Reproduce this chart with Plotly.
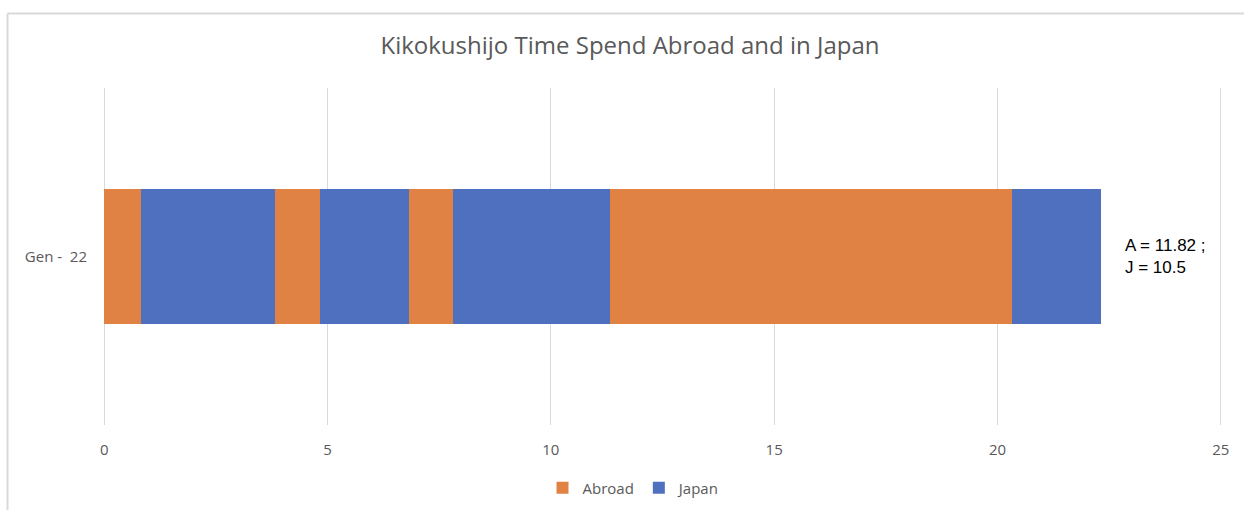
import plotly.graph_objects as go

# Generation label shown on the category axis
category = ["Gen -\u00a0\u00a022"]

# Consecutive periods of residence, in years, in chronological order
segment_series = ["Abroad", "Japan", "Abroad", "Japan", "Abroad", "Japan", "Abroad", "Japan"]
segment_years = [0.82, 3, 1, 2, 1, 3.5, 9, 2]

series_colors = {"Abroad": "#DF8244", "Japan": "#4E70BE"}

x_ticks = [0, 5, 10, 15, 20, 25]

fig = go.Figure()
shown = set()
for name, years in zip(segment_series, segment_years):
    fig.add_trace(go.Bar(
        y=category,
        x=[years],
        orientation="h",
        name=name,
        legendgroup=name,
        showlegend=name not in shown,
        marker=dict(color=series_colors[name], line=dict(width=0)),
        width=0.4,
    ))
    shown.add(name)

total_abroad = round(sum(y for s, y in zip(segment_series, segment_years) if s == "Abroad"), 2)
total_japan = round(sum(y for s, y in zip(segment_series, segment_years) if s == "Japan"), 2)

fig.add_annotation(
    x=sum(segment_years), y=0, xref="x", yref="y",
    text=f"A = {total_abroad:g} ;<br>J = {total_japan:g}",
    showarrow=False, xanchor="left", yanchor="middle", align="left",
    xshift=22,
    font=dict(family="Liberation Sans, Arial", size=17, color="#000000"),
)

# Light frame around the chart area (paper coords of a 1121x337 plot area at l=102, t=88)
def px_x(px):
    return (px - 102) / 1121

def px_y(py):
    return (425 - py) / 337

frame = dict(type="line", xref="paper", yref="paper", line=dict(color="#D9D9D9", width=2))
fig.add_shape(x0=px_x(7.5), x1=px_x(7.5), y0=px_y(13.5), y1=px_y(530), **frame)
fig.add_shape(x0=px_x(7.5), x1=px_x(1260), y0=px_y(13.5), y1=px_y(13.5), **frame)

fig.update_layout(
    width=1244, height=510,
    margin=dict(l=102, r=21, t=88, b=85, autoexpand=False),
    barmode="stack",
    paper_bgcolor="white", plot_bgcolor="white",
    font=dict(family="Open Sans, sans-serif", color="#595959", size=15),
    title=dict(
        text="Kikokushijo Time Spend Abroad and in Japan",
        x=630 / 1244, xref="container", xanchor="center",
        y=1 - 46 / 510, yref="container", yanchor="middle",
        font=dict(family="Open Sans, sans-serif", size=24, color="#595959"),
    ),
    legend=dict(
        orientation="h", x=px_x(634), xanchor="center", y=px_y(488), yanchor="middle",
        font=dict(size=15, color="#595959"), traceorder="normal",
        itemwidth=30,
    ),
    xaxis=dict(
        range=[-0.05, 25.05], tickvals=x_ticks, showgrid=True, gridcolor="#D9D9D9", gridwidth=1,
        zeroline=False, showline=False, ticks="", ticklabelstandoff=14,
        tickfont=dict(size=15, color="#595959"), automargin=False,
    ),
    yaxis=dict(
        range=[-0.5, 0.5], showgrid=False, zeroline=False, showline=False, ticks="",
        ticklabelstandoff=14, tickfont=dict(size=15, color="#595959"), automargin=False,
    ),
)

fig.write_html("out.html")
